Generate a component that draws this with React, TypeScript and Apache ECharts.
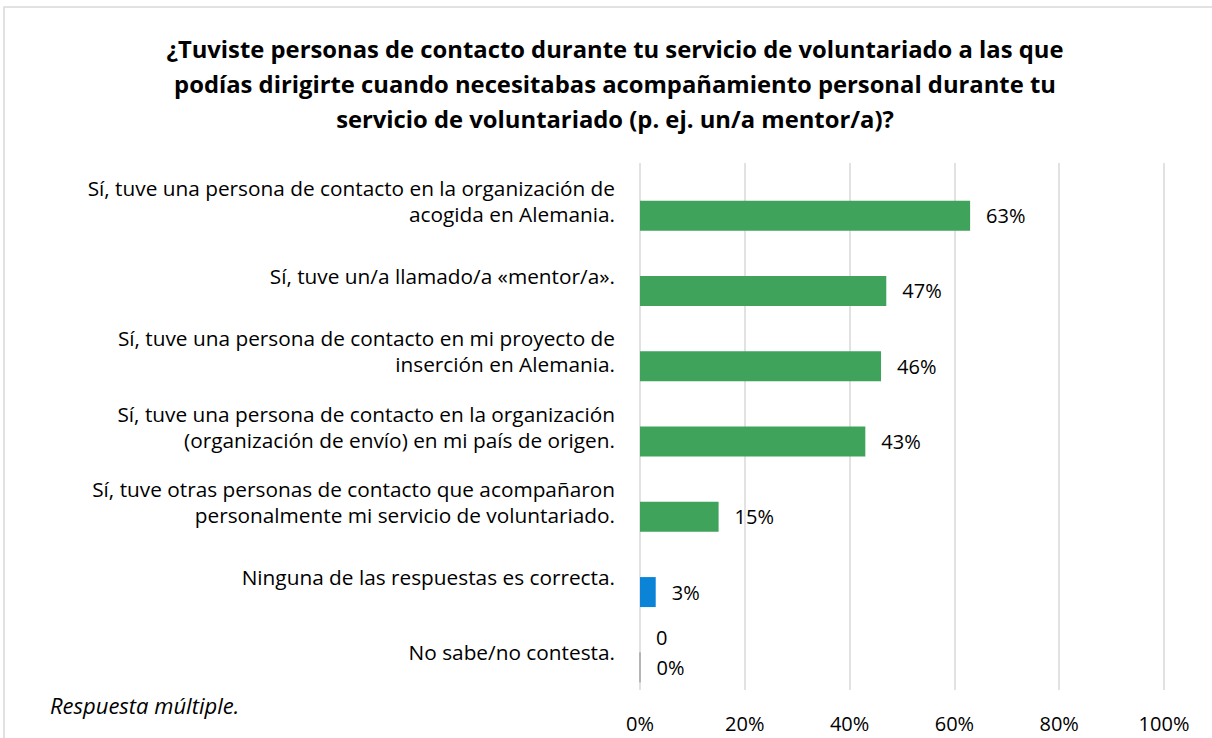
import React, { useEffect, useRef } from "react";
import * as echarts from "echarts";

const categories = [
  "Sí, tuve una persona de contacto en la organización de\nacogida en Alemania.",
  "Sí, tuve un/a llamado/a «mentor/a».",
  "Sí, tuve una persona de contacto en mi proyecto de\ninserción en Alemania.",
  "Sí, tuve una persona de contacto en la organización\n(organización de envío) en mi país de origen.",
  "Sí, tuve otras personas de contacto que acompañaron\npersonalmente mi servicio de voluntariado.",
  "Ninguna de las respuestas es correcta.",
  "No sabe/no contesta.",
];
const hiddenSeriesValues: (number | null)[] = [null, null, null, null, null, null, 0];
const percentValues = [63, 47, 46, 43, 15, 3, 0];
const barColors = ["#3fa35b", "#3fa35b", "#3fa35b", "#3fa35b", "#3fa35b", "#0b84d8", "#ffffff"];
const xTicks = [0, 20, 40, 60, 80, 100];

const titleText =
  "¿Tuviste personas de contacto durante tu servicio de voluntariado a las que\npodías dirigirte cuando necesitabas acompañamiento personal durante tu\nservicio de voluntariado (p. ej. un/a mentor/a)?";

const FONT = "'Open Sans', sans-serif";

export default function App() {
  const ref = useRef<HTMLDivElement>(null);
  useEffect(() => {
    if (!ref.current) return;
    const chart = echarts.init(ref.current, null, { renderer: "svg" });
    chart.setOption({
      animation: false,
      backgroundColor: "#ffffff",
      textStyle: { fontFamily: FONT },
      title: {
        text: titleText,
        left: 610,
        top: 26,
        textAlign: "center",
        textStyle: {
          fontFamily: FONT,
          fontSize: 23.8,
          fontWeight: "bold",
          color: "#000000",
          lineHeight: 35,
        },
      },
      graphic: [
        {
          type: "rect",
          shape: { x: 4, y: 7, width: 1230, height: 800 },
          style: { fill: "none", stroke: "#d9d9d9", lineWidth: 1.5 },
          silent: true,
        },
        {
          type: "text",
          left: 50,
          top: 694,
          style: {
            text: "Respuesta múltiple.",
            font: `italic 22px ${FONT}`,
            fill: "#000000",
          },
        },
      ],
      grid: { left: 640, right: 48, top: 163, bottom: 48, containLabel: false },
      xAxis: {
        type: "value",
        min: xTicks[0],
        max: xTicks[xTicks.length - 1],
        interval: 20,
        axisLine: { show: false },
        axisTick: { show: false },
        axisLabel: {
          formatter: "{value}%",
          fontFamily: FONT,
          fontSize: 20,
          color: "#000000",
          margin: 23,
        },
        splitLine: { show: true, lineStyle: { color: "#d9d9d9", width: 1.5 } },
      },
      yAxis: {
        type: "category",
        inverse: true,
        data: categories,
        axisLine: { show: false },
        axisTick: { show: false },
        axisLabel: {
          fontFamily: FONT,
          fontSize: 20.8,
          color: "#000000",
          lineHeight: 26,
          align: "right",
          margin: 25,
        },
      },
      series: [
        {
          type: "bar",
          data: hiddenSeriesValues,
          barWidth: 30,
          barGap: "0%",
          itemStyle: { color: "transparent" },
          label: {
            show: true,
            position: "right",
            distance: 16,
            formatter: (p: any) => (p.value === null || p.value === undefined ? "" : String(p.value)),
            fontFamily: FONT,
            fontSize: 20,
            color: "#000000",
          },
        },
        {
          type: "bar",
          data: percentValues.map((v, i) => ({
            value: v,
            itemStyle:
              v === 0
                ? { color: barColors[i], borderColor: "#a6a6a6", borderWidth: 1 }
                : { color: barColors[i] },
          })),
          barWidth: 30,
          barGap: "0%",
          label: {
            show: true,
            position: "right",
            distance: 16,
            formatter: "{c}%",
            fontFamily: FONT,
            fontSize: 20,
            color: "#000000",
          },
        },
      ],
    });
    return () => chart.dispose();
  }, []);
  return (
    <div
      ref={ref}
      style={{ position: "absolute", left: 0, top: 0, width: 1212, height: 738 }}
    />
  );
}
